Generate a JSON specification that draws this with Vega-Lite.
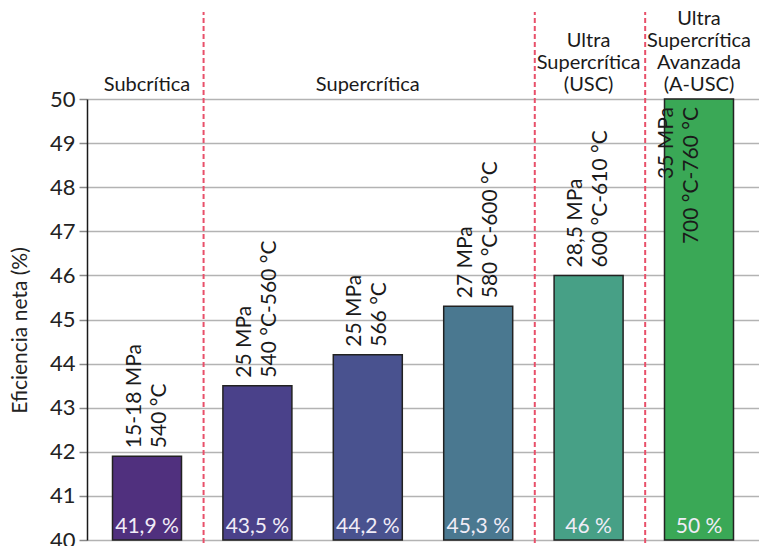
{
  "$schema": "https://vega.github.io/schema/vega-lite/v6.json",
  "width": 672,
  "height": 441,
  "autosize": {"type": "none"},
  "padding": {"left": 87, "top": 99, "right": 0, "bottom": 6},
  "background": "white",
  "config": {
    "view": {"stroke": null},
    "font": "Lato",
    "text": {"font": "Lato"}
  },
  "datasets": {
    "centrales": [
      {"caso": "1", "rotulo": ["15-18 MPa", "540 °C"], "eficiencia": 41.9, "etiqueta": "41,9 %"},
      {"caso": "2", "rotulo": ["25 MPa", "540 °C-560 °C"], "eficiencia": 43.5, "etiqueta": "43,5 %"},
      {"caso": "3", "rotulo": ["25 MPa", "566 °C"], "eficiencia": 44.2, "etiqueta": "44,2 %"},
      {"caso": "4", "rotulo": ["27 MPa", "580 °C-600 °C"], "eficiencia": 45.3, "etiqueta": "45,3 %"},
      {"caso": "5", "rotulo": ["28,5 MPa", "600 °C-610 °C"], "eficiencia": 46, "etiqueta": "46 %"},
      {"caso": "6", "rotulo": ["35 MPa", "700 °C-760 °C"], "eficiencia": 50, "etiqueta": "50 %"}
    ],
    "grupos": [
      {"caso": "1", "texto": "Subcrítica", "fila": 0},
      {"caso": "3", "texto": "Supercrítica", "fila": 0},
      {"caso": "5", "texto": "Ultra", "fila": 2},
      {"caso": "5", "texto": "Supercrítica", "fila": 1},
      {"caso": "5", "texto": "(USC)", "fila": 0},
      {"caso": "6", "texto": "Ultra", "fila": 3},
      {"caso": "6", "texto": "Supercrítica", "fila": 2},
      {"caso": "6", "texto": "Avanzada", "fila": 1},
      {"caso": "6", "texto": "(A-USC)", "fila": 0}
    ],
    "limites": [
      {"caso": "1"},
      {"caso": "4"},
      {"caso": "5"}
    ]
  },
  "layer": [
    {
      "data": {"name": "centrales"},
      "mark": {"type": "bar", "stroke": "#222222", "strokeWidth": 1.5},
      "encoding": {
        "x": {
          "field": "caso",
          "type": "nominal",
          "sort": null,
          "scale": {"domain": ["1", "2", "3", "4", "5", "6"], "paddingInner": 0.375, "paddingOuter": 0.231},
          "axis": {"labels": false, "ticks": false, "title": null, "domainColor": "#9a9a9a", "domainWidth": 1.5}
        },
        "y": {
          "field": "eficiencia",
          "type": "quantitative",
          "scale": {"domain": [40, 50], "zero": false, "nice": false},
          "axis": {
            "values": [40, 41, 42, 43, 44, 45, 46, 47, 48, 49, 50],
            "grid": true,
            "gridColor": "#b3b3b3",
            "gridWidth": 1.5,
            "tickColor": "#8a8a8a",
            "tickSize": 8,
            "tickWidth": 1.5,
            "domainColor": "#1a1a1a",
            "domainWidth": 1.5,
            "labelFontSize": 22,
            "labelColor": "#222222",
            "labelPadding": 4,
            "labelFont": "Lato",
            "title": "Eficiencia neta (%)",
            "titleFont": "Lato",
            "titleFontSize": 21,
            "titleFontWeight": "normal",
            "titleColor": "#222222",
            "titleBaseline": "middle",
            "titleX": -67,
            "titleY": 231
          }
        },
        "y2": {"datum": 40},
        "color": {
          "field": "caso",
          "type": "nominal",
          "scale": {
            "domain": ["1", "2", "3", "4", "5", "6"],
            "range": ["#50307e", "#4a418a", "#49528f", "#4a7890", "#47a086", "#3aa856"]
          },
          "legend": null
        }
      }
    },
    {
      "data": {"name": "centrales"},
      "mark": {"type": "text", "baseline": "alphabetic", "align": "center", "dy": -7, "fontSize": 21, "color": "#f0ecf7"},
      "encoding": {
        "x": {"field": "caso", "type": "nominal", "sort": null, "axis": null},
        "y": {"datum": 40},
        "text": {"field": "etiqueta"}
      }
    },
    {
      "data": {"name": "centrales"},
      "transform": [{"filter": "datum.eficiencia < 50"}],
      "mark": {"type": "text", "angle": 270, "align": "left", "baseline": "middle", "dx": 8, "dy": -12.5, "fontSize": 21, "lineHeight": 25, "color": "#1a1a1a"},
      "encoding": {
        "x": {"field": "caso", "type": "nominal", "sort": null, "axis": null},
        "y": {"field": "eficiencia", "type": "quantitative"},
        "text": {"field": "rotulo"}
      }
    },
    {
      "data": {"name": "centrales"},
      "transform": [{"filter": "datum.eficiencia >= 50"}],
      "mark": {"type": "text", "angle": 270, "align": "right", "baseline": "middle", "dx": -8, "dy": -32, "fontSize": 21, "lineHeight": 25, "color": "#1a1a1a"},
      "encoding": {
        "x": {"field": "caso", "type": "nominal", "sort": null, "axis": null},
        "y": {"field": "eficiencia", "type": "quantitative"},
        "text": {"field": "rotulo"}
      }
    },
    {
      "mark": {"type": "rule", "color": "#1a1a1a", "strokeWidth": 1.5},
      "encoding": {"y": {"datum": 50}}
    },
    {
      "data": {"name": "limites"},
      "mark": {"type": "rule", "color": "#e8506a", "strokeWidth": 2, "strokeDash": [5, 3]},
      "encoding": {
        "x": {"field": "caso", "type": "nominal", "sort": null, "bandPosition": 1.32, "axis": null},
        "y": {"datum": 39.93},
        "y2": {"datum": 51.97}
      }
    },
    {
      "data": {"name": "grupos"},
      "mark": {"type": "text", "align": "center", "baseline": "alphabetic", "fontSize": 20, "color": "#1a1a1a"},
      "encoding": {
        "x": {"field": "caso", "type": "nominal", "sort": null, "axis": null},
        "y": {"datum": 50.18},
        "yOffset": {"field": "fila", "type": "quantitative", "scale": {"domain": [0, 3], "range": [0, -66]}},
        "text": {"field": "texto"}
      }
    }
  ]
}
